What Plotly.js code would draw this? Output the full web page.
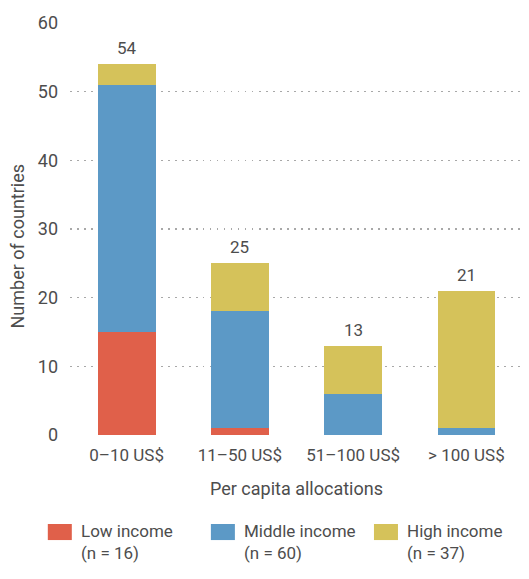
<!DOCTYPE html>
<html>
<head>
<meta charset="utf-8">
<script src="https://cdn.plot.ly/plotly-3.0.1.min.js"></script>
<style>
  html, body { margin: 0; padding: 0; background: #fff; }
  #chart { width: 529px; height: 579px; }
</style>
</head>
<body>
<div id="chart"></div>
<script>
// Per capita allocation bands
const categories = ['0–10 US$', '11–50 US$', '51–100 US$', '> 100 US$'];

// Number of countries in each band, by income group
const lowIncome    = [15, 1, 0, 0];
const middleIncome = [36, 17, 6, 1];
const highIncome   = [3, 7, 7, 20];

const seriesNames  = ['Low income', 'Middle income', 'High income'];
const seriesCounts = ['(n = 16)', '(n = 60)', '(n = 37)'];
const seriesColors = ['#E0604A', '#5C99C6', '#D5C25A'];

const yTicks = [0, 10, 20, 30, 40, 50, 60];

const seriesValues = [lowIncome, middleIncome, highIncome];
const totals = categories.map((_, i) => seriesValues.reduce((s, arr) => s + arr[i], 0));

const textColor = '#4d4d4d';
const fontFamily = 'Roboto, "Noto Sans", sans-serif';

const traces = seriesValues.map((vals, k) => ({
  type: 'bar',
  name: seriesNames[k],
  x: categories,
  y: vals,
  marker: { color: seriesColors[k], line: { width: 0 } },
  hoverinfo: 'x+y+name',
  showlegend: false
}));

// Total count above each stacked bar
const totalLabels = categories.map((c, i) => ({
  x: c, y: totals[i], xref: 'x', yref: 'y',
  text: String(totals[i]),
  showarrow: false, yanchor: 'bottom', yshift: 4,
  font: { family: fontFamily, size: 17, color: textColor }
}));

// Vertical axis title, set a little below the plot's middle
const yTitle = {
  xref: 'paper', yref: 'paper', x: -0.117, y: 0.46,
  xanchor: 'center', yanchor: 'middle', textangle: -90,
  text: 'Number of countries', showarrow: false,
  font: { family: fontFamily, size: 18, color: textColor }
};

// Legend drawn as swatches with two-line labels below the plot
const legendX = [-0.049, 0.311, 0.671];
const legendShapes = legendX.map((x0, k) => ({
  type: 'rect', xref: 'paper', yref: 'paper',
  x0: x0, x1: x0 + 0.053, y0: -0.255, y1: -0.216,
  fillcolor: seriesColors[k], line: { width: 0 }
}));
const legendText = legendX.map((x0, k) => ({
  xref: 'paper', yref: 'paper',
  x: x0 + 0.069, y: -0.204,
  xanchor: 'left', yanchor: 'top', align: 'left',
  text: seriesNames[k] + '<br>' + seriesCounts[k],
  showarrow: false,
  font: { family: fontFamily, size: 17, color: textColor }
}));

const layout = {
  width: 529, height: 579,
  margin: { l: 70, r: 6, t: 23, b: 144 },
  paper_bgcolor: '#fff', plot_bgcolor: '#fff',
  barmode: 'stack',
  bargap: 0.49,
  font: { family: fontFamily, color: textColor },
  xaxis: {
    type: 'category',
    showgrid: false, zeroline: false, showline: false, ticks: '',
    ticklabelstandoff: 8,
    tickfont: { family: fontFamily, size: 17, color: textColor },
    title: { text: 'Per capita allocations', standoff: 18,
             font: { family: fontFamily, size: 18, color: textColor } }
  },
  yaxis: {
    range: [0, 60],
    tickvals: yTicks,
    showgrid: true, gridcolor: '#a8a8a8', gridwidth: 1.5, griddash: '1.5px,5.5px',
    zeroline: false, showline: false, ticks: '',
    ticklabelstandoff: 11,
    tickfont: { family: fontFamily, size: 18, color: textColor }
  },
  shapes: legendShapes,
  annotations: totalLabels.concat(legendText, [yTitle])
};

Plotly.newPlot('chart', traces, layout, { displayModeBar: false, staticPlot: true });
</script>
</body>
</html>
